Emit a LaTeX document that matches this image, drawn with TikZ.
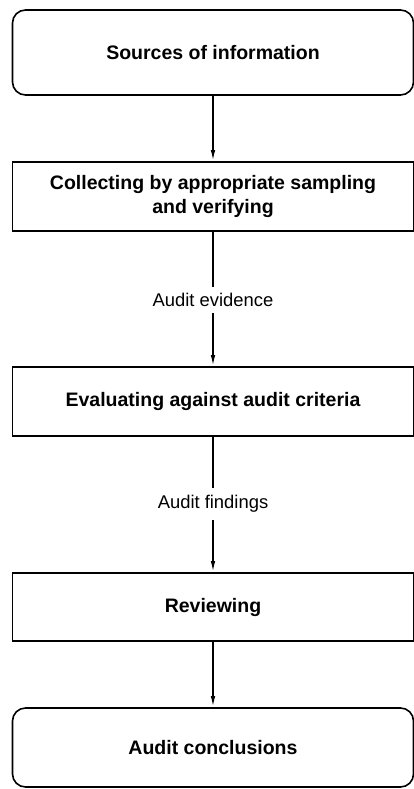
\documentclass[tikz,border=0pt]{standalone}
\usepackage{fontspec}
\setmainfont{Liberation Sans}
\usetikzlibrary{arrows.meta, positioning}
\tikzset{
    endBox/.style={draw, line width=1.6pt, rounded corners=13pt, minimum width=401pt,
        align=center, font=\fontsize{19.5}{24}\selectfont\bfseries},
    procBox/.style={draw, line width=1.6pt, minimum width=401pt,
        align=center, font=\fontsize{19.5}{24}\selectfont\bfseries},
    flowLabel/.style={inner sep=0pt, font=\fontsize{18.4}{22}\selectfont},
    flowA/.style={line width=1.6pt, -{Latex[length=11pt,width=4.5pt]}},
    flowL/.style={line width=1.6pt}
}
\begin{document}
\begin{tikzpicture}[x=1pt, y=-1pt]
    \useasboundingbox (0,0) rectangle (414,789);
    \def \cx {213}
    \node[endBox, minimum height=85pt] (src) at (\cx, 52.5) {Sources of information};
    \node[procBox, minimum height=69pt] (collect) at (\cx, 196.5) {Collecting by appropriate sampling\\and verifying};
    \node[flowLabel, minimum height=26pt] (evid) at (\cx, 300) {Audit evidence};
    \node[procBox, minimum height=69pt] (evaluate) at (\cx, 401.5) {Evaluating against audit criteria};
    \node[flowLabel, minimum height=32pt] (find) at (\cx, 504) {Audit findings};
    \node[procBox, minimum height=68pt] (review) at (\cx, 607) {Reviewing};
    \node[endBox, minimum height=79pt] (concl) at (\cx, 747.5) {Audit conclusions};
    \draw[flowA] (src) -- (collect);
    \draw[flowL] (collect) -- (evid);
    \draw[flowA] (evid) -- (evaluate);
    \draw[flowL] (evaluate) -- (find);
    \draw[flowA] (find) -- (review);
    \draw[flowA] (review) -- (concl);
\end{tikzpicture}
\end{document}
